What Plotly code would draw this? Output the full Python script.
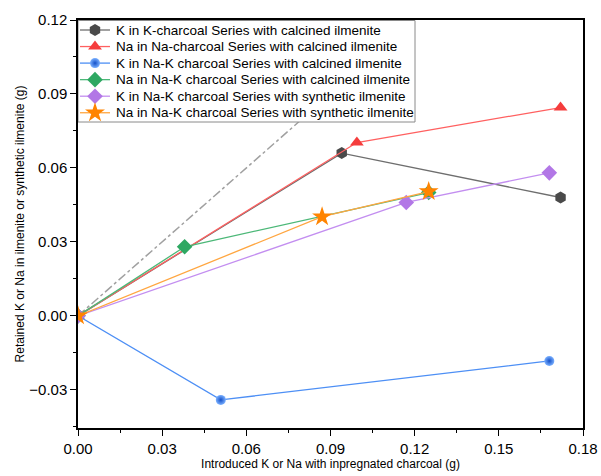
import plotly.graph_objects as go

names = [
    "K in K-charcoal Series with calcined ilmenite",
    "Na in Na-charcoal Series with calcined ilmenite",
    "K in Na-K charcoal Series with calcined ilmenite",
    "Na in Na-K charcoal Series with calcined ilmenite",
    "K in Na-K charcoal Series with synthetic ilmenite",
    "Na in Na-K charcoal Series with synthetic ilmenite",
]
x_k_k = [0.0, 0.094, 0.172]
y_k_k = [0.0, 0.066, 0.048]
x_na_na = [0.0, 0.0994, 0.172]
y_na_na = [0.0, 0.0703, 0.0845]
x_k_nak_c = [0.0, 0.0509, 0.168]
y_k_nak_c = [0.0, -0.0341, -0.0183]
x_na_nak_c = [0.0, 0.038, 0.125]
y_na_nak_c = [0.0, 0.028, 0.050]
x_k_nak_s = [0.0, 0.117, 0.168]
y_k_nak_s = [0.0, 0.046, 0.058]
x_na_nak_s = [0.0, 0.087, 0.125]
y_na_nak_s = [0.0, 0.0402, 0.0504]
ref_x = [0.0, 0.12]
ref_y = [0.0, 0.12]

xs = [x_k_k, x_na_na, x_k_nak_c, x_na_nak_c, x_k_nak_s, x_na_nak_s]
ys = [y_k_k, y_na_na, y_k_nak_c, y_na_nak_c, y_k_nak_s, y_na_nak_s]
line_colors = ["#6e6e6e", "#ff6060", "#4d8ff5", "#4cb878", "#c38ef0", "#ffa640"]
marker_colors = ["#4a4a4a", "#f53c3c", "#2a72e8", "#2ea862", "#b277e6", "#ff8400"]
symbols = ["hexagon", "triangle-up", "circle", "diamond", "diamond", "star"]
sizes = [12, 12, 10, 12, 12, 15]

FONT = "Liberation Sans, Arial"

# plot area size in px (used for the hand-drawn legend overlay)
PLOT_W, PLOT_H = 505, 408
LEG_BOX = dict(x0=0, x1=337, y0=0.5, y1=102)
LEG_ROW0, LEG_ROW_STEP = 10, 16.55
LEG_LINE_X = (2, 32)
LEG_TEXT_X = 36


def marker_dict(i):
    m = dict(symbol=symbols[i], size=sizes[i], color=marker_colors[i], line=dict(width=0))
    if symbols[i] == "circle":
        m["color"] = "#7ab0ff"
        m["gradient"] = dict(type="radial", color="#1450c8")
    return m


fig = go.Figure()
fig.add_trace(go.Scatter(x=ref_x, y=ref_y, mode="lines", showlegend=False,
                         line=dict(color="#a0a0a0", width=1.5, dash="dashdot")))
for i in range(6):
    fig.add_trace(go.Scatter(
        x=xs[i], y=ys[i], name=names[i], mode="lines+markers", showlegend=False,
        line=dict(color=line_colors[i], width=1.3),
        marker=marker_dict(i),
    ))

# legend drawn on an overlay axis measured in plot pixels
b = LEG_BOX
fig.add_trace(go.Scatter(
    x=[b["x0"], b["x1"], b["x1"], b["x0"], b["x0"]],
    y=[b["y0"], b["y0"], b["y1"], b["y1"], b["y0"]],
    xaxis="x2", yaxis="y2", mode="lines", fill="toself", fillcolor="white",
    line=dict(color="#8a8a8a", width=1), showlegend=False, hoverinfo="skip",
    cliponaxis=False))
for i in range(6):
    yy = LEG_ROW0 + i * LEG_ROW_STEP
    fig.add_trace(go.Scatter(
        x=[LEG_LINE_X[0], LEG_LINE_X[1]], y=[yy, yy], xaxis="x2", yaxis="y2",
        mode="lines", line=dict(color=line_colors[i], width=1.3),
        showlegend=False, hoverinfo="skip", cliponaxis=False))
    fig.add_trace(go.Scatter(
        x=[(LEG_LINE_X[0] + LEG_LINE_X[1]) / 2], y=[yy], xaxis="x2", yaxis="y2",
        mode="markers", marker=marker_dict(i),
        showlegend=False, hoverinfo="skip", cliponaxis=False))
    fig.add_annotation(x=LEG_TEXT_X, y=yy, xref="x2", yref="y2", text=names[i],
                       showarrow=False, xanchor="left", yanchor="middle",
                       font=dict(family=FONT, size=13.5, color="black"))

axis_common = dict(
    showline=True, linecolor="black", linewidth=1.5, mirror=True,
    ticks="outside", ticklen=6, tickwidth=1.2, tickcolor="black",
    showgrid=False, zeroline=False, automargin=False,
    tickfont=dict(family=FONT, size=15, color="black"),
    minor=dict(ticks="outside", ticklen=3, tickwidth=1.2, tickcolor="black", dtick=0.015),
)
fig.update_xaxes(range=[0, 0.18], dtick=0.03, tickformat=".2f",
                 title=dict(text="Introduced K or Na with inpregnated charcoal (g)",
                            font=dict(family=FONT, size=12, color="black"),
                            standoff=3),
                 **axis_common)
fig.update_yaxes(range=[-0.0455, 0.12], dtick=0.03, tickformat=".2f",
                 title=dict(text="Retained K or Na in ilmenite or synthetic ilmenite (g)",
                            font=dict(family=FONT, size=12, color="black"),
                            standoff=2),
                 **axis_common)
fig.update_layout(
    width=601, height=476,
    margin=dict(l=78, r=18, t=20, b=48),
    plot_bgcolor="white", paper_bgcolor="white",
    font=dict(family=FONT, color="black"),
    showlegend=False,
    xaxis2=dict(overlaying="x", anchor="y2", range=[0, PLOT_W], visible=False,
                fixedrange=True, automargin=False),
    yaxis2=dict(overlaying="y", anchor="x2", range=[PLOT_H, 0], visible=False,
                fixedrange=True, automargin=False),
)
fig.write_html("out.html")
